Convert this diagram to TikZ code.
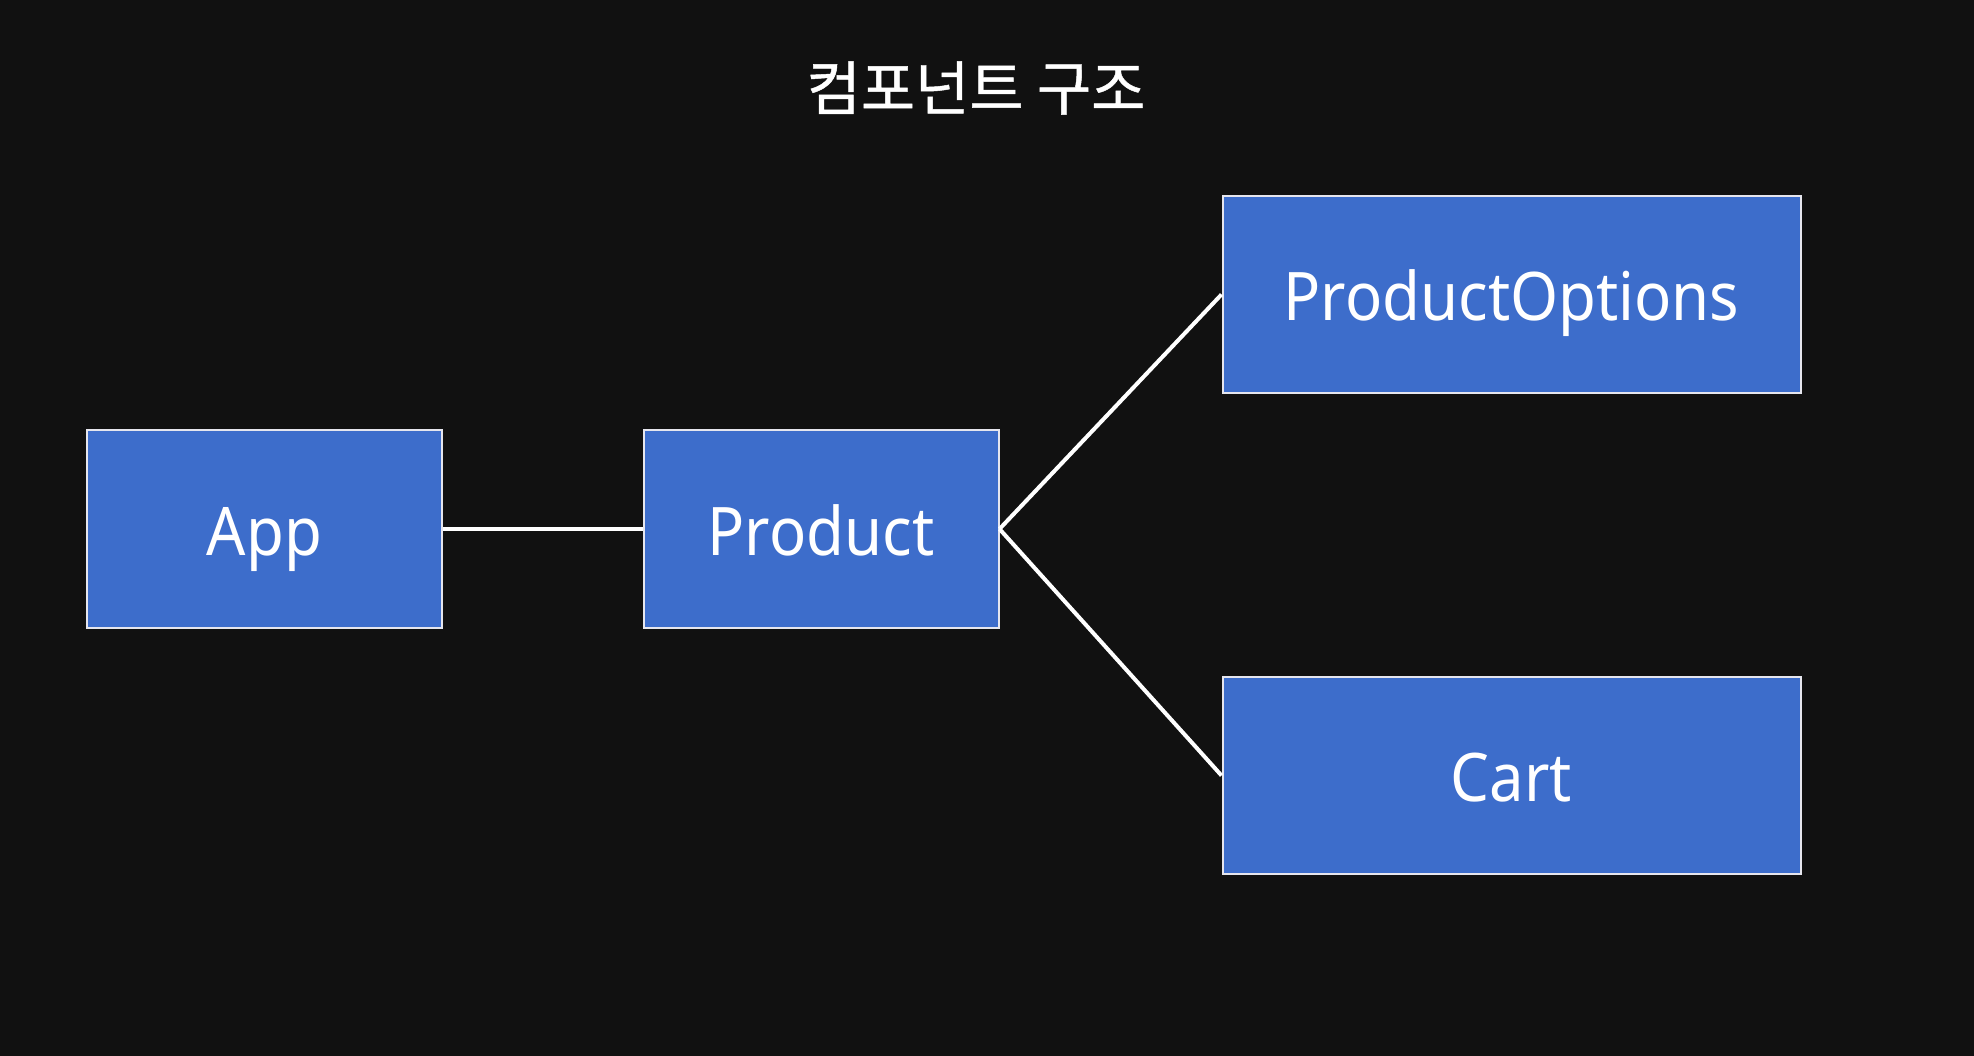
\documentclass[tikz,border=0pt]{standalone}
\usepackage{fontspec}
\setmainfont{Noto Sans}[FakeStretch=0.92]
\newfontfamily\cjk{Noto Sans CJK KR}[FakeBold=0.8]
\definecolor{bg}{HTML}{111111}
\definecolor{boxfill}{HTML}{3D6DCB}
\definecolor{boxline}{HTML}{E6E6EE}
\begin{document}
\begin{tikzpicture}[x=1pt,y=-1pt,
  comp/.style={draw=boxline, line width=2pt, fill=boxfill, text=white, inner sep=0pt,
    text height=52pt, text depth=0pt,
    font=\fontsize{67}{80}\selectfont},
  link/.style={draw=white, line width=4pt}]
\fill[bg] (0,0) rectangle (1974,1056);
\useasboundingbox (0,0) rectangle (1974,1056);
\node[text=white, font=\cjk\fontsize{59}{72}\selectfont] (title) at (976,88) {컴포넌트 구조};
\node[comp, minimum width=355pt, minimum height=197pt] (app) at (264.5,529) {App};
\node[comp, minimum width=355pt, minimum height=197pt] (product) at (821,529) {Product};
\node[comp, minimum width=578pt, minimum height=197pt] (options) at (1511.5,294.5) {ProductOptions};
\node[comp, minimum width=578pt, minimum height=197pt] (cart) at (1511.5,775.5) {Cart};
\draw[link] (app.east) -- (product.west);
\draw[link] (product.east) -- (options.west);
\draw[link] (product.east) -- (cart.west);
\end{tikzpicture}
\end{document}
